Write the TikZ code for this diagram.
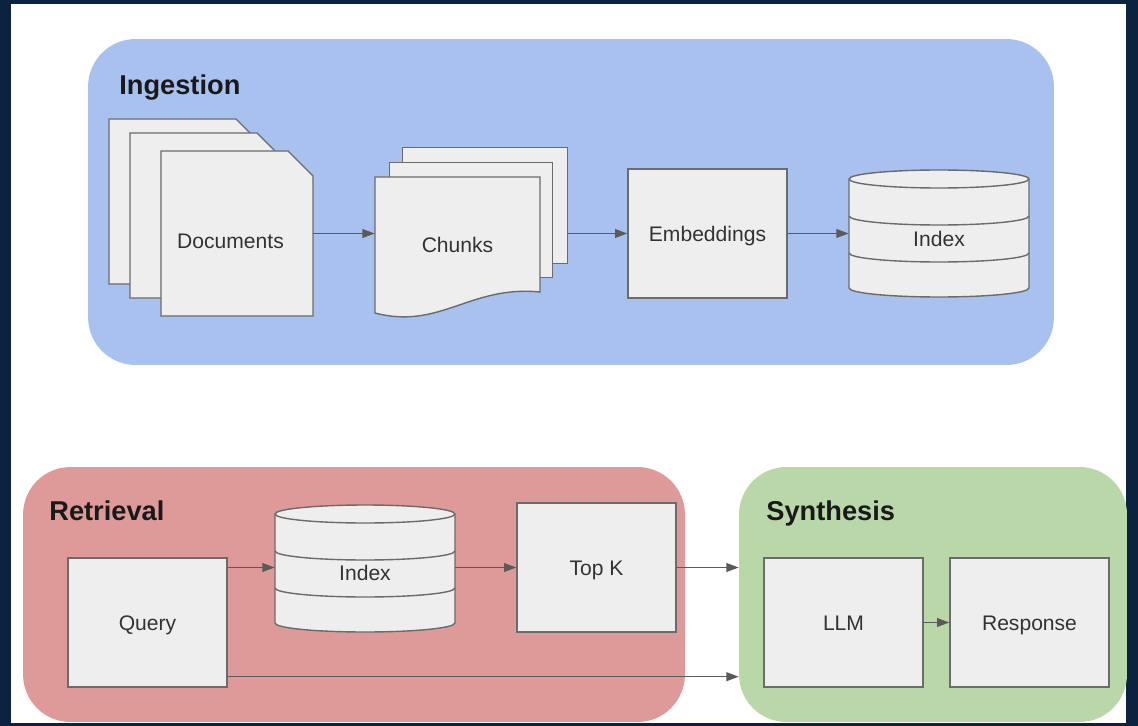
\documentclass[tikz,border=0pt]{standalone}
\usepackage{fontspec}
\setmainfont{Liberation Sans}
\usetikzlibrary{shapes,arrows.meta,positioning}
\definecolor{frame}{HTML}{0C2340}
\definecolor{ingfill}{HTML}{A9C1EF}
\definecolor{retfill}{HTML}{DE9A98}
\definecolor{synfill}{HTML}{BAD7AA}
\definecolor{boxfill}{HTML}{EEEEEE}
\definecolor{boxline}{HTML}{6B6B6B}
\definecolor{arrline}{HTML}{5A5A5A}
\tikzstyle{panel}=[rectangle,rounded corners=0.95cm,inner sep=0pt]
\tikzstyle{title}=[anchor=base west,inner sep=0pt,font=\fontsize{15.5}{18}\selectfont\bfseries,text=black!90]
\tikzstyle{proc}=[rectangle,draw=boxline,fill=boxfill,line width=0.8pt,minimum width=3.18cm,minimum height=2.58cm,text height=8.6pt,text depth=0pt,font=\fontsize{12}{14}\selectfont,text=black!80]
\tikzstyle{lbl}=[rectangle,inner sep=0pt,text height=8.6pt,text depth=0pt,font=\fontsize{12}{14}\selectfont,text=black!80]
\tikzstyle{sheet}=[draw=boxline,fill=boxfill,line width=0.8pt]
\tikzstyle{arr}=[-{Triangle[length=7pt,width=5pt]},draw=arrline,fill=arrline,line width=0.8pt]
\tikzset{
  docpage/.pic={\draw[sheet] (0,0) -- (127,0) -- (152,25) -- (152,165) -- (0,165) -- cycle;},
  dbcyl/.pic={
    \draw[sheet] (0,9) -- (0,118) arc[start angle=180,end angle=360,x radius=1.8cm,y radius=0.18cm]
      -- (180,9) arc[start angle=0,end angle=180,x radius=1.8cm,y radius=0.18cm] -- cycle;
    \foreach \yy in {9,46,83}
      \draw[sheet,fill=none] (0,\yy) arc[start angle=180,end angle=360,x radius=1.8cm,y radius=0.18cm];
  }
}

\begin{document}
\begin{tikzpicture}[x=0.02cm,y=-0.02cm]
\useasboundingbox (0,0) rectangle (1138,726);
\fill[frame] (0,0) rectangle (1138,726);
\fill[white] (11,4) rectangle (1126,723);

% panels
\node[panel, fill=ingfill, minimum width=19.32cm, minimum height=6.52cm] (Ing) at (571,202) {};
\node[panel, fill=retfill, minimum width=13.24cm, minimum height=5.1cm] (Ret) at (354,594.5) {};
\node[panel, fill=synfill, minimum width=7.76cm, minimum height=5.1cm] (Syn) at (933,594.5) {};
\node[title] (IngT) at (119,95) {Ingestion};
\node[title] (RetT) at (49,520) {Retrieval};
\node[title] (SynT) at (766,520) {Synthesis};

% ingestion
\pic at (109,119) {docpage};
\pic at (130,133) {docpage};
\pic at (161,151) {docpage};
\node[lbl, minimum width=3.3cm] (Doc) at (230.5,241) {Documents};

\node[sheet, rectangle, anchor=north west, minimum width=3.3cm, minimum height=2.32cm] (Chk3) at (402,147) {};
\node[sheet, rectangle, anchor=north west, minimum width=3.26cm, minimum height=2.3cm] (Chk2) at (389,162) {};
\draw[sheet] (375,177) -- (540,177) -- (540,292) .. controls (470,285) and (440,330) .. (375,313) -- cycle;
\node[lbl, minimum width=3.3cm] (Chk) at (457.5,245) {Chunks};

\node[proc] (Emb) at (707.5,233.5) {Embeddings};

\pic at (849,170) {dbcyl};
\node[lbl, minimum width=3.6cm] (Idx) at (939,239) {Index};

\draw[arr] (Doc.east |- Emb.west) -- (Chk.west |- Emb.west);
\draw[arr] (Chk3.east |- Emb.west) -- (Emb.west);
\draw[arr] (Emb.east) -- (Emb.east -| Idx.west);

% retrieval
\node[proc] (Qry) at (147.5,622.5) {Query};
\pic at (275,505) {dbcyl};
\node[lbl, minimum width=3.6cm] (Idx2) at (365,572.5) {Index};
\node[proc] (TopK) at (596.5,567.5) {Top K};

% synthesis
\node[proc] (LLM) at (843.5,622.5) {LLM};
\node[proc] (Resp) at (1029.5,622.5) {Response};

\draw[arr] (Qry.east |- TopK.west) -- (TopK.west -| Idx2.west);
\draw[arr] (TopK.west -| Idx2.east) -- (TopK.west);
\draw[arr] (TopK.east) -- (TopK.east -| Syn.west);
\coordinate (QryOut) at ([yshift=0.22cm]Qry.south east);
\draw[arr] (QryOut) -- (QryOut -| Syn.west);
\draw[arr] (LLM) -- (Resp);
\end{tikzpicture}
\end{document}
